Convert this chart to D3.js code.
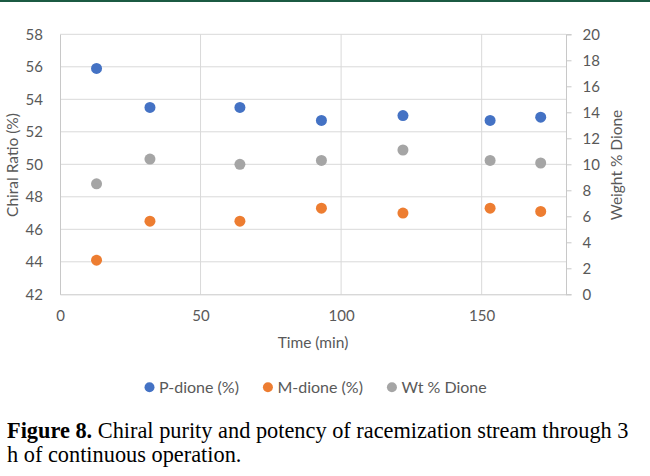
<!DOCTYPE html>
<html>
<head>
<meta charset="utf-8">
<script src="https://cdn.jsdelivr.net/npm/d3@7"></script>
<style>
  html, body { margin: 0; padding: 0; background: #fff; }
  svg { display: block; }
</style>
</head>
<body>
<svg id="chart" width="650" height="476"></svg>
<script>
// ---- data ----
const timeMin = [13, 32, 64, 93, 122, 153, 171];
const pDione = [55.9, 53.5, 53.5, 52.7, 53.0, 52.7, 52.9];
const mDione = [44.1, 46.5, 46.5, 47.3, 47.0, 47.3, 47.1];
const wtDione = [8.5, 10.4, 10.0, 10.3, 11.1, 10.3, 10.1];
const xTicks = [0, 50, 100, 150];
const yLeftTicks = [42, 44, 46, 48, 50, 52, 54, 56, 58];
const yRightTicks = [0, 2, 4, 6, 8, 10, 12, 14, 16, 18, 20];
const seriesNames = ["P-dione (%)", "M-dione (%)", "Wt % Dione"];
const seriesColors = ["#4472C4", "#ED7D31", "#A5A5A5"];
const captionBold = "Figure 8.";
const captionLine1 = " Chiral purity and potency of racemization stream through 3";
const captionLine2 = "h of continuous operation.";

(function () {
const svg = d3.select("#chart");
const font = "Lato, 'Open Sans', sans-serif";
const textColor = "#595959";

// top rule
svg.append("rect").attr("x", 0).attr("y", 0).attr("width", 650).attr("height", 2).attr("fill", "#1b5a43");

const pL = 60, pR = 566, pT = 34.3, pB = 294.3;
const x = d3.scaleLinear().domain([0, 180]).range([pL, pR]);
const yL = d3.scaleLinear().domain([42, 58]).range([pB, pT]);
const yR = d3.scaleLinear().domain([0, 20]).range([pB, pT]);

// horizontal gridlines
svg.append("g").selectAll("line").data(yLeftTicks.slice(1)).join("line")
  .attr("x1", pL).attr("x2", pR)
  .attr("y1", d => yL(d)).attr("y2", d => yL(d))
  .attr("stroke", "#d9d9d9").attr("stroke-width", 1);
// vertical gridlines
svg.append("g").selectAll("line").data(xTicks.slice(1)).join("line")
  .attr("x1", d => x(d)).attr("x2", d => x(d))
  .attr("y1", pT).attr("y2", pB)
  .attr("stroke", "#d9d9d9").attr("stroke-width", 1);

// left axis
const gL = svg.append("g").attr("transform", `translate(${pL},0)`)
  .call(d3.axisLeft(yL).tickValues(yLeftTicks).tickSize(0).tickPadding(17));
gL.select(".domain").attr("stroke", "#c8c8c8");
gL.selectAll("text").attr("font-family", font).attr("font-size", 15).attr("fill", textColor);

// right axis
const gR = svg.append("g").attr("transform", `translate(${pR},0)`)
  .call(d3.axisRight(yR).tickValues(yRightTicks).tickSize(5.5).tickPadding(11));
gR.select(".domain").attr("stroke", "#c8c8c8");
gR.selectAll(".tick line").attr("stroke", "#c8c8c8");
gR.selectAll("text").attr("font-family", font).attr("font-size", 15).attr("fill", textColor);

// bottom axis
const gB = svg.append("g").attr("transform", `translate(0,${pB})`)
  .call(d3.axisBottom(x).tickValues(xTicks).tickSize(0).tickPadding(16));
gB.select(".domain").attr("stroke", "#c8c8c8");
gB.selectAll("text").attr("font-family", font).attr("font-size", 15).attr("fill", textColor);

// axis titles
svg.append("text").attr("transform", "translate(18,165) rotate(-90)")
  .attr("text-anchor", "middle").attr("font-family", font).attr("font-size", 15.5)
  .attr("fill", textColor).text("Chiral Ratio (%)");
svg.append("text").attr("transform", "translate(622,165) rotate(-90)")
  .attr("text-anchor", "middle").attr("font-family", font).attr("font-size", 15.5)
  .attr("fill", textColor).text("Weight % Dione");
svg.append("text").attr("x", 313).attr("y", 348)
  .attr("text-anchor", "middle").attr("font-family", font).attr("font-size", 15.5)
  .attr("fill", textColor).text("Time (min)");

// points
const series = [
  { vals: pDione, scale: yL },
  { vals: mDione, scale: yL },
  { vals: wtDione, scale: yR }
];
series.forEach((s, i) => {
  svg.append("g").selectAll("circle").data(timeMin.map((t, j) => [t, s.vals[j]])).join("circle")
    .attr("cx", d => x(d[0])).attr("cy", d => s.scale(d[1]))
    .attr("r", 5.5).attr("fill", seriesColors[i]);
});

// legend
const leg = svg.append("g");
let cx = 0;
seriesNames.forEach((n, i) => {
  const g = leg.append("g").attr("transform", `translate(${cx},0)`);
  g.append("circle").attr("cx", 5).attr("cy", 0).attr("r", 5).attr("fill", seriesColors[i]);
  const t = g.append("text").attr("x", 14.5).attr("y", 5.5).attr("font-family", font)
    .attr("font-size", 16).attr("fill", textColor).text(n);
  cx += 14.5 + t.node().getComputedTextLength() + 24;
});
const legW = cx - 24;
leg.attr("transform", `translate(${315.6 - legW / 2},387.3)`);

// caption
const capFont = "'Liberation Serif', 'DejaVu Serif', serif";
const cap1 = svg.append("text").attr("x", 7).attr("y", 437.5).attr("font-family", capFont)
  .attr("font-size", 20).attr("fill", "#000");
cap1.append("tspan").attr("font-weight", "bold").text(captionBold);
cap1.append("tspan").text(captionLine1);
const w1 = cap1.node().getComputedTextLength();
const fs = 20 * 622 / w1;
cap1.attr("font-size", fs);
svg.append("text").attr("x", 7).attr("y", 462).attr("font-family", capFont)
  .attr("font-size", fs).attr("fill", "#000").text(captionLine2);
})();
</script>
</body>
</html>
